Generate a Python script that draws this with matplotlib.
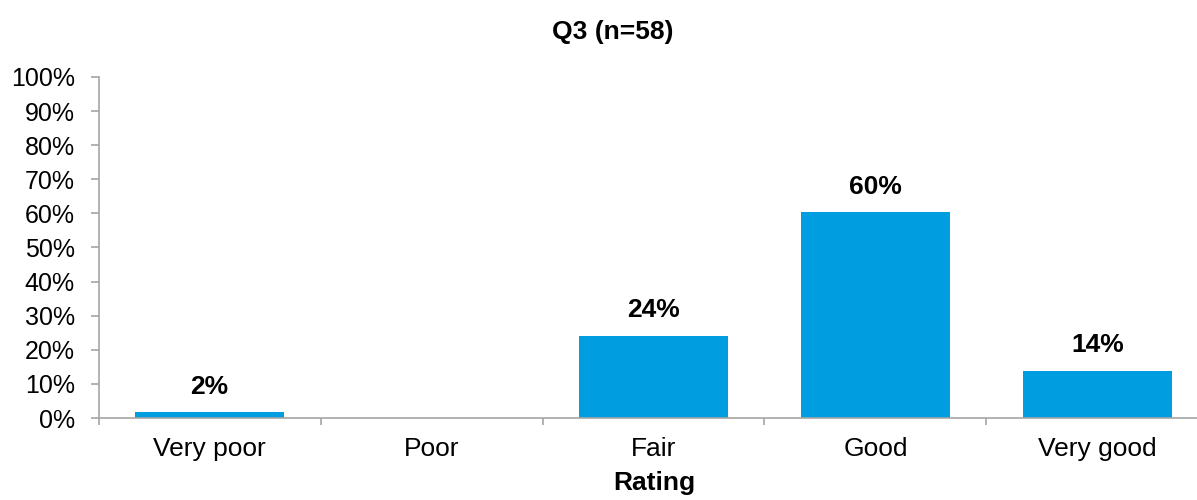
import matplotlib
matplotlib.use("Agg")
import matplotlib.pyplot as plt
import numpy as np

plt.rcParams['font.family'] = ['Liberation Sans', 'DejaVu Sans']

categories = ["Very poor", "Poor", "Fair", "Good", "Very good"]
values = [1.7, 0.0, 24.1, 60.3, 13.8]
labels = ["2%", "", "24%", "60%", "14%"]
yticks = list(range(0, 101, 10))

BAR = "#009EE0"
AXIS = "#A6A6A6"

# axes runs slightly past the right edge of the figure, as in the source
fig = plt.figure(figsize=(11.97, 5.0), dpi=100)
ax = fig.add_axes([98.5/1197, 82/500, 1110/1197, 341/500])

x = np.arange(len(categories))
ax.bar(x, values, width=0.67, color=BAR)
for xi, v, lab in zip(x, values, labels):
    if lab:
        ax.text(xi, v + 4, lab, ha="center", va="bottom", fontsize=19, fontweight="bold")

ax.set_xlim(-0.5, len(categories) - 0.5)
ax.set_ylim(0, 100)
ax.set_yticks(yticks)
ax.set_yticklabels([f"{t}%" for t in yticks], fontsize=18)
ax.set_xticks(x)
ax.set_xticklabels(categories, fontsize=19)
ax.tick_params(axis="x", length=0, pad=14)
ax.set_xticks(np.arange(-0.5, len(categories)), minor=True)
ax.tick_params(axis="x", which="minor", length=5, color=AXIS, width=1.2)
ax.tick_params(axis="y", length=6, color=AXIS, width=1.2, pad=11)

for s in ["top", "right"]:
    ax.spines[s].set_visible(False)
for s in ["left", "bottom"]:
    ax.spines[s].set_color(AXIS)
    ax.spines[s].set_linewidth(1.2)

fig.text(613/1197, 1 - 32/500, "Q3 (n=58)", ha="center", va="center", fontsize=19, fontweight="bold")
fig.text(654/1197, 1 - 483/500, "Rating", ha="center", va="center", fontsize=19, fontweight="bold")

fig.savefig("out.png", dpi=100)
